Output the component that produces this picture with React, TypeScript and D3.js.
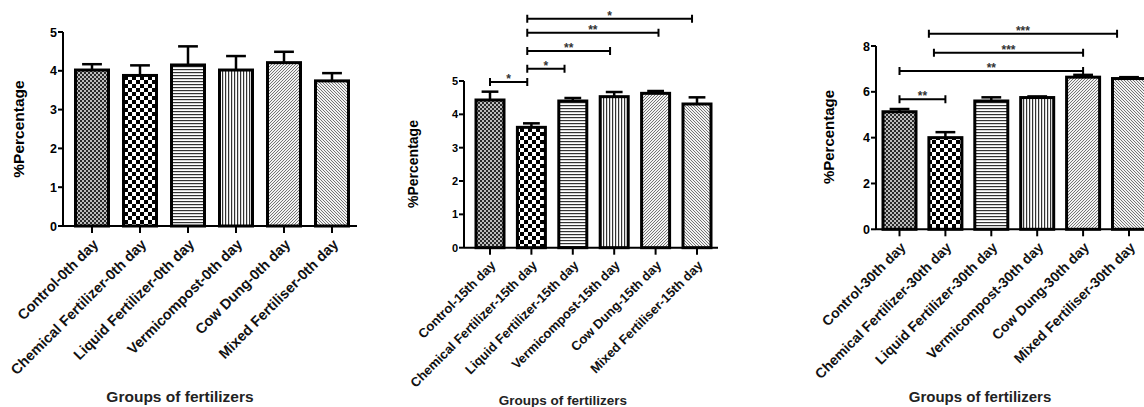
import React, { useEffect, useRef } from 'react';
import * as d3 from 'd3';

// groups and days
const groups = ['Control', 'Chemical Fertilizer', 'Liquid Fertilizer', 'Vermicompost', 'Cow Dung', 'Mixed Fertiliser'];
const days = ['0th day', '15th day', '30th day'];

// mean % and error (upper bar only)
const means0 = [4.02, 3.88, 4.15, 4.02, 4.21, 3.74];
const errs0 = [0.15, 0.26, 0.48, 0.36, 0.28, 0.2];
const means15 = [4.43, 3.61, 4.4, 4.53, 4.63, 4.31];
const errs15 = [0.25, 0.12, 0.09, 0.14, 0.07, 0.2];
const means30 = [5.13, 4.0, 5.6, 5.75, 6.64, 6.58];
const errs30 = [0.12, 0.24, 0.16, 0.05, 0.1, 0.06];

const yTicks0 = [0, 1, 2, 3, 4, 5];
const yTicks15 = [0, 1, 2, 3, 4, 5];
const yTicks30 = [0, 2, 4, 6, 8];

// significance brackets: from/to are group positions, at is the y value
const sig15 = [
  { from: 0, to: 0.9, label: '*', at: 4.97 },
  { from: 0.9, to: 1.8, label: '*', at: 5.37 },
  { from: 0.9, to: 2.9, label: '**', at: 5.9 },
  { from: 0.9, to: 4.07, label: '**', at: 6.45 },
  { from: 0.9, to: 4.88, label: '*', at: 6.87 },
];
const sig30 = [
  { from: 0, to: 1, label: '**', at: 5.68 },
  { from: 0, to: 4, label: '**', at: 6.91 },
  { from: 0.75, to: 4, label: '***', at: 7.71 },
  { from: 0.64, to: 4.74, label: '***', at: 8.53 },
];

const yTitle = '%Percentage';
const xTitle = 'Groups of fertilizers';

const panels = [
  {
    day: days[0], means: means0, errs: errs0, ticks: yTicks0, sig: [],
    left: 63, right: 357, bottom: 226, top: 32, firstX: 92, step: 48, barW: 33,
    tickFont: 12.5, labelFont: 14.5, yTitleFont: 15.5, yTitleX: 24, yTitleY: 129,
    xTitleFont: 15.5, xTitleX: 180, xTitleY: 402,
  },
  {
    day: days[1], means: means15, errs: errs15, ticks: yTicks15, sig: sig15,
    left: 464, right: 718, bottom: 247.7, top: 81, firstX: 490, step: 41.4, barW: 28,
    tickFont: 11, labelFont: 13, yTitleFont: 14, yTitleX: 418, yTitleY: 164,
    xTitleFont: 13.5, xTitleX: 563, xTitleY: 405,
  },
  {
    day: days[2], means: means30, errs: errs30, ticks: yTicks30, sig: sig30,
    left: 876, right: 1150, bottom: 229.3, top: 46, firstX: 899.5, step: 45.9, barW: 33,
    tickFont: 12.5, labelFont: 14, yTitleFont: 15, yTitleX: 834, yTitleY: 137,
    xTitleFont: 15, xTitleX: 980, xTitleY: 402,
  },
];

const FONT = '"Liberation Sans", Arial, sans-serif';

const App = () => {
  const ref = useRef<SVGSVGElement>(null);

  useEffect(() => {
    const svg = d3.select(ref.current);
    svg.selectAll('*').remove();

    // fill patterns, one per group
    const defs = svg.append('defs');
    const pat = (id: string, w: number, h: number, bg: string) => {
      const p = defs.append('pattern').attr('id', id)
        .attr('patternUnits', 'userSpaceOnUse').attr('width', w).attr('height', h);
      p.append('rect').attr('width', w).attr('height', h).attr('fill', bg);
      return p;
    };
    const p0 = pat('pat0', 4, 4, '#bdbdbd');
    p0.append('rect').attr('width', 2).attr('height', 2).attr('fill', '#2a2a2a');
    p0.append('rect').attr('x', 2).attr('y', 2).attr('width', 2).attr('height', 2).attr('fill', '#2a2a2a');
    const p1 = pat('pat1', 8, 8, '#fff');
    p1.append('rect').attr('width', 4).attr('height', 4).attr('fill', '#000');
    p1.append('rect').attr('x', 4).attr('y', 4).attr('width', 4).attr('height', 4).attr('fill', '#000');
    const p2 = pat('pat2', 3, 3, '#fff');
    p2.append('rect').attr('width', 3).attr('height', 1.2).attr('fill', '#333');
    const p3 = pat('pat3', 3, 3, '#fff');
    p3.append('rect').attr('width', 1.2).attr('height', 3).attr('fill', '#333');
    const p4 = pat('pat4', 3, 3, '#f2f2f2');
    p4.append('path').attr('d', 'M-1,1 l2,-2 M0,3 l3,-3 M2,4 l2,-2').attr('stroke', '#666').attr('stroke-width', 0.9);
    const p5 = pat('pat5', 3, 3, '#f2f2f2');
    p5.append('path').attr('d', 'M-1,2 l2,2 M0,0 l3,3 M2,-1 l2,2').attr('stroke', '#666').attr('stroke-width', 0.9);

    panels.forEach((pn) => {
      const g = svg.append('g');
      const labels = groups.map((d) => `${d}-${pn.day}`);
      const x = d3.scaleBand<string>()
        .domain(labels)
        .range([pn.firstX - pn.step / 2, pn.firstX - pn.step / 2 + pn.step * groups.length])
        .paddingInner(1 - pn.barW / pn.step)
        .paddingOuter((1 - pn.barW / pn.step) / 2);
      const pos = d3.scaleLinear().domain([0, groups.length - 1])
        .range([x(labels[0])! + x.bandwidth() / 2, x(labels[labels.length - 1])! + x.bandwidth() / 2]);
      const yMax = d3.max(pn.ticks)!;
      const y = d3.scaleLinear().domain([0, yMax]).range([pn.bottom, pn.top]);

      // bars
      g.selectAll('.bar').data(pn.means).enter().append('rect')
        .attr('x', (d, i) => x(labels[i])!)
        .attr('y', (d) => y(d))
        .attr('width', x.bandwidth())
        .attr('height', (d) => y(0) - y(d))
        .attr('fill', (d, i) => `url(#pat${i})`)
        .attr('stroke', '#000').attr('stroke-width', 3);

      // error bars
      const cap = x.bandwidth() * 0.6;
      pn.means.forEach((m, i) => {
        const cx = x(labels[i])! + x.bandwidth() / 2;
        g.append('line').attr('x1', cx).attr('x2', cx).attr('y1', y(m)).attr('y2', y(m + pn.errs[i]))
          .attr('stroke', '#000').attr('stroke-width', 2.5);
        g.append('line').attr('x1', cx - cap / 2).attr('x2', cx + cap / 2)
          .attr('y1', y(m + pn.errs[i])).attr('y2', y(m + pn.errs[i]))
          .attr('stroke', '#000').attr('stroke-width', 2.5);
      });

      // axes
      g.append('line').attr('x1', pn.left).attr('x2', pn.left).attr('y1', y(0)).attr('y2', y(yMax))
        .attr('stroke', '#000').attr('stroke-width', 2);
      g.append('line').attr('x1', pn.left).attr('x2', pn.right).attr('y1', y(0)).attr('y2', y(0))
        .attr('stroke', '#000').attr('stroke-width', 2);
      pn.ticks.forEach((t) => {
        g.append('line').attr('x1', pn.left - 5).attr('x2', pn.left).attr('y1', y(t)).attr('y2', y(t))
          .attr('stroke', '#000').attr('stroke-width', 2);
        g.append('text').attr('x', pn.left - 6).attr('y', y(t)).attr('dy', '0.36em')
          .attr('text-anchor', 'end').attr('font-size', pn.tickFont).attr('font-weight', 'bold')
          .attr('font-family', FONT).text(t);
      });
      labels.forEach((l) => {
        const cx = x(l)! + x.bandwidth() / 2;
        g.append('line').attr('x1', cx).attr('x2', cx).attr('y1', y(0)).attr('y2', y(0) + 7)
          .attr('stroke', '#000').attr('stroke-width', 2);
        g.append('text')
          .attr('transform', `translate(${cx},${y(0) + 12}) rotate(-45)`)
          .attr('dy', '0.7em')
          .attr('text-anchor', 'end').attr('font-size', pn.labelFont).attr('font-weight', 'bold')
          .attr('font-family', FONT).attr('fill', '#111').text(l);
      });

      // significance brackets
      pn.sig.forEach((s) => {
        const x1 = pos(s.from);
        const x2 = pos(s.to);
        const yy = y(s.at);
        g.append('path')
          .attr('d', `M${x1},${yy - 4}V${yy + 4}M${x1},${yy}H${x2}M${x2},${yy - 4}V${yy + 4}`)
          .attr('fill', 'none').attr('stroke', '#000').attr('stroke-width', 2);
        g.append('text').attr('x', (x1 + x2) / 2).attr('y', yy + 1)
          .attr('text-anchor', 'middle').attr('font-size', 12).attr('font-weight', 'bold')
          .attr('font-family', FONT).attr('fill', '#333').text(s.label);
      });

      // titles
      g.append('text')
        .attr('transform', `translate(${pn.yTitleX},${pn.yTitleY}) rotate(-90)`)
        .attr('text-anchor', 'middle').attr('font-size', pn.yTitleFont).attr('font-weight', 'bold')
        .attr('font-family', FONT).text(yTitle);
      g.append('text').attr('x', pn.xTitleX).attr('y', pn.xTitleY)
        .attr('text-anchor', 'middle').attr('font-size', pn.xTitleFont).attr('font-weight', 'bold')
        .attr('font-family', FONT).attr('fill', '#222').text(xTitle);
    });
  }, []);

  return (
    <svg ref={ref} width={1144} height={407}
      style={{ position: 'absolute', left: 0, top: 0, background: '#fff' }} />
  );
};

export default App;
